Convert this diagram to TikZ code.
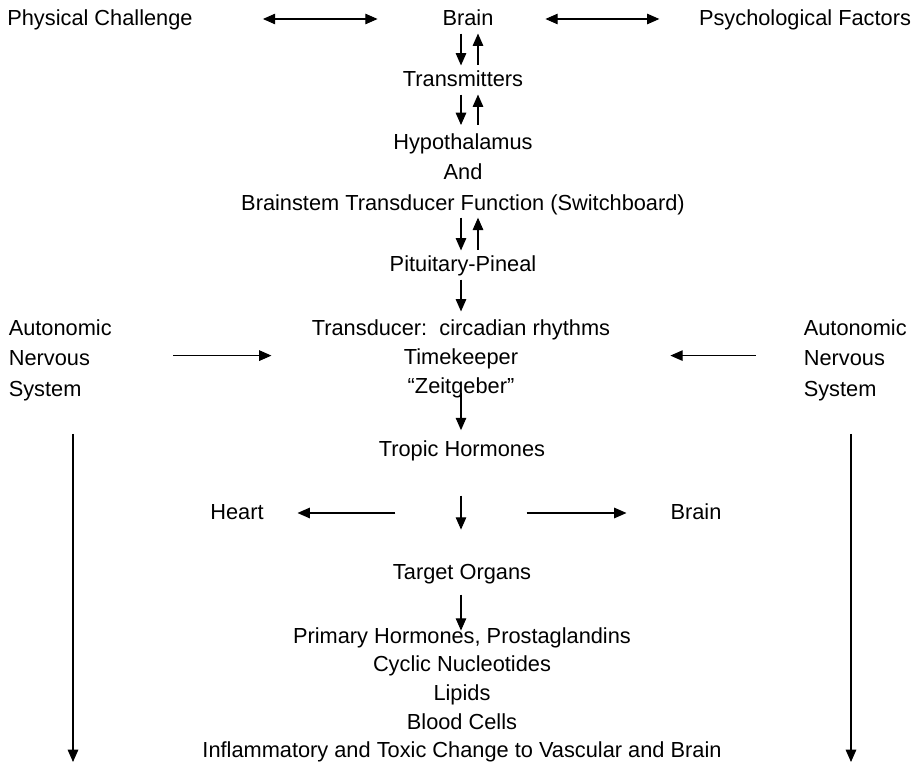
\documentclass[tikz,border=0pt]{standalone}
\usepackage{fontspec}
\setmainfont{Liberation Sans}
\usetikzlibrary{arrows.meta}

\begin{document}
\begin{tikzpicture}[x=0.02cm, y=-0.02cm, line width=0.6pt,
	>={Triangle[length=7pt,width=6pt]},
	lbl/.style={inner sep=3pt, font=\fontsize{12.4}{17}\selectfont, text height=0.85em, text depth=0.15em},
	blk/.style={inner sep=3pt, font=\fontsize{12.4}{17.3}\selectfont}]
	\useasboundingbox (0,0) rectangle (921,773);
	\coordinate (dn) at (461,0);
	\coordinate (up) at (478,0);
	\node[lbl] (phys)at(100, 19) {Physical Challenge};
	\node[lbl] (brain)at(468, 19) {Brain};
	\node[lbl] (psych)at(805, 19) {Psychological Factors};
	\node[lbl] (trans)at(463, 80) {Transmitters};
	\node[blk, align=center] (hypo)at(463, 174) {Hypothalamus\\And\\Brainstem Transducer Function (Switchboard)};
	\node[lbl] (pit)at(463, 265) {Pituitary-Pineal};
	\node[blk, align=center, font=\fontsize{12.4}{16.5}\selectfont] (tdc)at(461, 359) {Transducer:\ \ circadian rhythms\\Timekeeper\\“Zeitgeber”};
	\node[blk, align=left, anchor=west] (ansl)at(3, 360) {Autonomic\\Nervous\\System};
	\node[blk, align=left, anchor=west] (ansr)at(798, 360) {Autonomic\\Nervous\\System};
	\node[lbl] (trop)at(462, 450) {Tropic Hormones};
	\node[lbl] (heart)at(237, 513) {Heart};
	\node[lbl] (brainb)at(696, 513) {Brain};
	\coordinate (hub) at (461, 513);
	\node[lbl] (targ)at(462, 573) {Target Organs};
	\node[blk, align=center, font=\fontsize{12.4}{16.3}\selectfont] (prim)at(462, 695) {Primary Hormones, Prostaglandins\\Cyclic Nucleotides\\Lipids\\Blood Cells\\Inflammatory and Toxic Change to Vascular and Brain};
	\coordinate (lend) at (73, 762);
	\coordinate (rend) at (851, 762);
	\draw[<->, shorten <=36.7pt, shorten >=33.7pt] (phys) -- (brain);
	\draw[<->, shorten <=26.3pt, shorten >=19.3pt] (brain) -- (psych);
	\draw[->] (brain.south -| dn) -- (trans.north -| dn);
	\draw[<-] (brain.south -| up) -- (trans.north -| up);
	\draw[->] (trans.south -| dn) -- ([yshift=1.5pt]hypo.north -| dn);
	\draw[<-] (trans.south -| up) -- ([yshift=1.5pt]hypo.north -| up);
	\draw[->] ([yshift=1.5pt]hypo.south -| dn) -- (pit.north -| dn);
	\draw[<-] ([yshift=1.5pt]hypo.south -| up) -- (pit.north -| up);
	\draw[->] (pit.south -| dn) -- ([yshift=1.5pt]tdc.north -| dn);
	\draw[->, shorten <=31.8pt, shorten >=19.7pt] ([yshift=2.5pt]ansl.east) -- ([yshift=2.5pt]ansl.east -| tdc.west);
	\draw[->, shorten <=24pt, shorten >=31pt] ([yshift=2.5pt]ansr.west) -- ([yshift=2.5pt]ansr.west -| tdc.east);
	\draw[->, shorten <=-6pt, shorten >=3pt] (tdc.south -| dn) -- (trop.north -| dn);
	\draw[->, shorten <=15.6pt] (ansl.south -| lend) -- (lend);
	\draw[->, shorten <=15.6pt] (ansr.south -| rend) -- (rend);
	\draw[->, shorten <=37.4pt, shorten >=16pt] (hub) -- (heart);
	\draw[->, shorten <=37.4pt, shorten >=21.8pt] (hub) -- (brainb);
	\draw[->, shorten <=17.6pt, shorten >=16.4pt] (trop.south -| dn) -- (targ.north -| dn);
	\draw[->, shorten <=4pt, shorten >=-5pt] (targ.south -| dn) -- (prim.north -| dn);
\end{tikzpicture}
\end{document}
